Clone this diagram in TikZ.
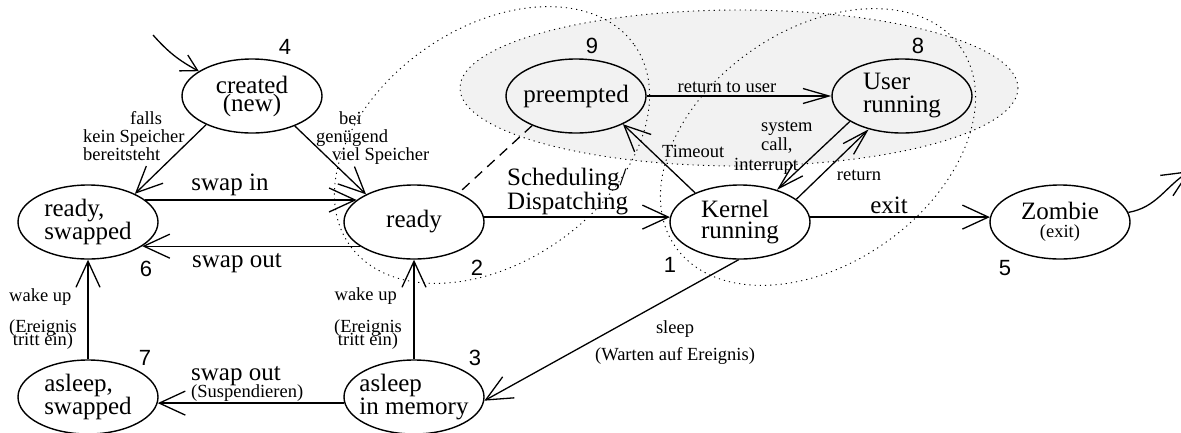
\documentclass[tikz,border=0pt]{standalone}
\usepackage{fontspec}
\setmainfont{Liberation Serif}
\newfontfamily\numfont{Liberation Sans}
\usetikzlibrary{shapes.geometric,arrows.meta}
\definecolor{lightfill}{gray}{0.95}
\begin{document}
\begin{tikzpicture}[x=1pt,y=-1pt,
  state/.style={draw, ellipse, line width=1.4pt, minimum width=140pt, minimum height=74pt,
    inner xsep=-8pt, inner ysep=0pt, font=\fontsize{25}{23}\selectfont},
  edge/.style={line width=1.3pt, -{Straight Barb[length=26pt,width=24pt]}},
  thinhead/.style={-{Straight Barb[length=26pt,width=15pt]}},
  smallhead/.style={-{Straight Barb[length=16pt,width=18pt]}},
  lbl/.style={font=\fontsize{18.5}{18}\selectfont, inner sep=0pt},
  biglbl/.style={font=\fontsize{25}{22}\selectfont, inner sep=0pt},
  num/.style={font=\numfont\fontsize{22}{22}\selectfont, inner sep=0pt},
  dotline/.style={line width=0.9pt, dash pattern=on 1.2pt off 4pt},
]
\useasboundingbox (0,0) rectangle (1181,432);
\clip (0,0) rectangle (1181,432);

% grouping ellipses
\fill[lightfill] (739,88) ellipse [x radius=279, y radius=78];
\draw[dotline] (739,88) ellipse [x radius=279, y radius=78];
\draw[dotline, rotate around={35:(492,145)}] (492,145) ellipse [x radius=174, y radius=117];
\draw[dotline, rotate around={35:(818,147)}] (818,147) ellipse [x radius=174, y radius=117];

% states
\node[state, align=center] (cr) at (252,96) {created\\[-5pt](new)};
\node[state, align=left] (rs) at (88,222) {ready,\\swapped};
\node[state] (rdy) at (414,222) {ready};
\node[state, align=left] (kr) at (740,222) {Kernel\\[-2pt]running};
\node[state, align=center] (zb) at (1060,222) {Zombie\\[-5pt]{\fontsize{18.5}{18}\selectfont (exit)}};
\node[state] (pe) at (576,96) {preempted};
\node[state, align=left] (ur) at (902,96) {User\\running};
\node[state, align=left] (as) at (88,397) {asleep,\\swapped};
\node[state, align=left] (am) at (414,397) {asleep\\in memory};

% numbers
\node[num] (n4) at (285,47) {4};
\node[num] (n9) at (592,46) {9};
\node[num] (n8) at (918,46) {8};
\node[num] (n6) at (146,269) {6};
\node[num] (n2) at (477,268) {2};
\node[num] (n1) at (670,265) {1};
\node[num] (n5) at (1005,268) {5};
\node[num] (n7) at (145,358) {7};
\node[num] (n3) at (475,358) {3};

% free ends
\coordinate (init) at (153,35);
\coordinate (zexit) at (1190,171);

% transitions
\draw[edge, smallhead] (init) to[bend right=10] (cr.155);
\draw[edge] (cr.212) -- (rs.31);
\draw[edge] (cr.325) -- (rdy.150);
\draw[edge] (rs.21) -- (rdy.159);
\draw[edge] (rdy.204) -- (rs.336);
\draw[edge] (rdy.4) -- (kr.176);
\draw[edge] (kr.4) -- (zb.176);
\draw[edge] (kr.268) -- (am.357);
\draw[edge] (am.185) -- (as.355);
\draw[edge] (am.north) -- (rdy.south);
\draw[edge] (as.north) -- (rs.south);
\draw[edge] (kr.147) -- (pe.329);
\draw[edge, thinhead] (pe.east) -- (ur.west);
\draw[edge, thinhead] (ur.206) -- (kr.41);
\draw[edge, thinhead] (kr.22) -- (ur.225);
\draw[line width=1.3pt, dash pattern=on 10pt off 7pt] (pe.214) -- (rdy.33);
\draw[edge] (zb.8) to[out=10,in=212] (zexit);

% labels (multi-line nodes: base = baseline of the last line)
\node[lbl, anchor=base west, align=left] (lfalls) at (83,160) {\hspace*{47pt}falls\\kein Speicher\\bereitsteht};
\node[lbl, anchor=base west, align=left] (lbei) at (316,160) {\hspace*{23pt}bei\\genügend\\\hspace*{16pt}viel Speicher};
\node[biglbl, anchor=base] (lswapin) at (230,190) {swap in};
\node[biglbl, anchor=base] (lswapout) at (237,267) {swap out};
\node[biglbl, anchor=base west, align=left] (lsched) at (507,209) {Scheduling/\\Dispatching};
\node[lbl, anchor=base] (lrtu) at (727,92) {return to user};
\node[lbl, anchor=base west] (ltimeout) at (662,157) {Timeout};
\node[lbl, anchor=base west, align=left, font=\fontsize{18.5}{19.5}\selectfont] (lsys) at (734,170) {\hspace*{27pt}system\\\hspace*{27pt}call,\\interrupt};
\node[lbl, anchor=base] (lreturn) at (859,180) {return};
\node[biglbl, anchor=base] (lexit) at (889,213) {exit};
\node[lbl, anchor=base] (lsleep) at (675,333) {sleep};
\node[lbl, anchor=base] (lwarten) at (675,360) {(Warten auf Ereignis)};
\node[lbl, anchor=base east] (lwake2) at (397,300) {wake up};
\node[lbl, anchor=base, align=center] (lereig2) at (368,345) {(Ereignis\\[-5pt]tritt ein)};
\node[lbl, anchor=base west] (lwake1) at (9,301) {wake up};
\node[lbl, anchor=base, align=center] (lereig1) at (43,345) {(Ereignis\\[-5pt]tritt ein)};
\node[biglbl, anchor=base west] (lswapout2) at (191,380) {swap out};
\node[lbl, anchor=base west] (lsusp) at (191,397) {(Suspendieren)};
\end{tikzpicture}
\end{document}
